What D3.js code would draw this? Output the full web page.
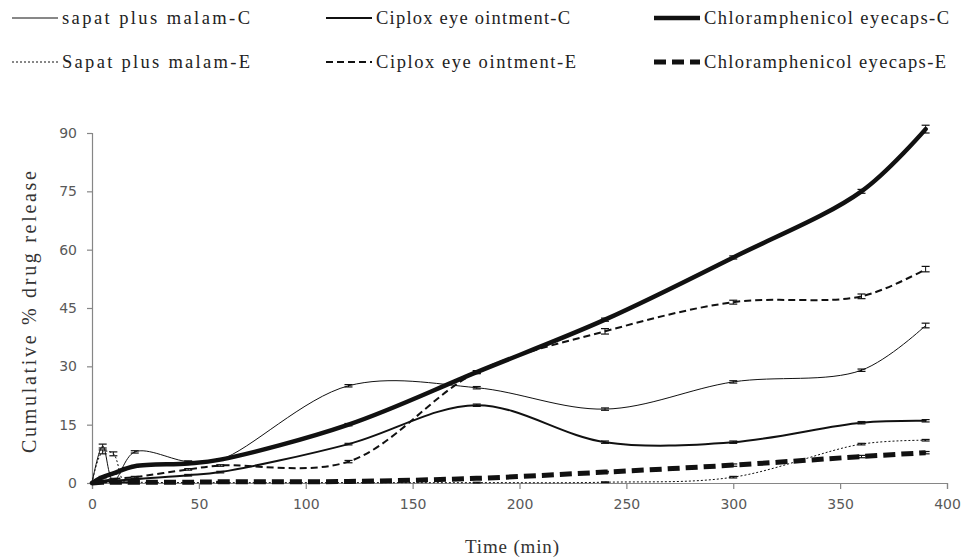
<!DOCTYPE html>
<html><head><meta charset="utf-8">
<script src="https://cdn.jsdelivr.net/npm/d3@7/dist/d3.min.js"></script>
<style>body{margin:0;background:#fff}svg{display:block}</style>
</head><body>
<svg id="chart" width="965" height="558"></svg>
<script>
const times = [0, 5, 10, 15, 20, 45, 60, 120, 180, 240, 300, 360, 390];
const sapatC  = [0, 9.5, 0.5, null, 8, 5.5, 6, 25, 24.5, 19, 26, 29, 40.5];
const sapatE  = [0, 8, 7.5, 0.3, 0.2, 0.1, 0.1, 0.1, 0.1, 0.2, 1.5, 10, 11];
const ciploxC = [0, 0.3, 0.5, null, 1, 2, 2.8, 10, 20, 10.5, 10.5, 15.5, 16];
const ciploxE = [0, 0.5, 1, null, 1.5, 3.5, 4.5, 5.5, 28.5, 39, 46.5, 48, 55];
const chlorC  = [0, 1.5, 2.5, null, 4.3, 5, 6, 15, 28.5, 42, 58, 75, 91];
const chlorE  = [0, 0.2, 0.2, null, 0.2, 0.2, 0.3, 0.4, 1.2, 2.8, 4.6, 6.8, 7.8];
const sdSapatC  = [0, 0.5, 0.4, null, 0.3, 0.2, 0.2, 0.3, 0.3, 0.3, 0.3, 0.3, 0.6];
const sdSapatE  = [0, 0.5, 0.5, 0.2, 0.1, 0.1, 0.1, 0.1, 0.1, 0.1, 0.2, 0.2, 0.2];
const sdCiploxC = [0, 0.2, 0.2, null, 0.2, 0.2, 0.2, 0.2, 0.3, 0.3, 0.3, 0.3, 0.3];
const sdCiploxE = [0, 0.2, 0.2, null, 0.2, 0.2, 0.2, 0.3, 0.4, 0.7, 0.5, 0.6, 0.7];
const sdChlorC  = [0, 0.2, 0.2, null, 0.2, 0.2, 0.2, 0.3, 0.3, 0.4, 0.4, 0.5, 1.0];
const sdChlorE  = [0, 0.1, 0.1, null, 0.1, 0.1, 0.1, 0.1, 0.2, 0.2, 0.3, 0.3, 0.3];
const seriesNames = ["sapat plus malam-C", "Ciplox eye ointment-C", "Chloramphenicol eyecaps-C",
                     "Sapat plus malam-E", "Ciplox eye ointment-E", "Chloramphenicol eyecaps-E"];
const xTicks = [0, 50, 100, 150, 200, 250, 300, 350, 400];
const yTicks = [0, 15, 30, 45, 60, 75, 90];

const series = [
  {name: seriesNames[0], vals: sapatC, sd: sdSapatC, w: 1, dash: null},
  {name: seriesNames[1], vals: ciploxC, sd: sdCiploxC, w: 2, dash: null},
  {name: seriesNames[2], vals: chlorC, sd: sdChlorC, w: 4.5, dash: null},
  {name: seriesNames[3], vals: sapatE, sd: sdSapatE, w: 1, dash: "2,2"},
  {name: seriesNames[4], vals: ciploxE, sd: sdCiploxE, w: 2, dash: "7,4"},
  {name: seriesNames[5], vals: chlorE, sd: sdChlorE, w: 5, dash: "12,6"}
];

const svg = d3.select("#chart");
const x = d3.scaleLinear().domain([0, 400]).range([92, 947]);
const y = d3.scaleLinear().domain([0, 90]).range([483, 133]);
const axisColor = "#868686";
const tickText = "#595959";
const serif = "'Liberation Serif', 'Times New Roman', serif";

// axes
const gx = svg.append("g").attr("transform", "translate(0,483)")
  .call(d3.axisBottom(x).tickValues(xTicks).tickSize(6).tickPadding(10).tickFormat(d3.format("d")));
const gy = svg.append("g").attr("transform", "translate(92,0)")
  .call(d3.axisLeft(y).tickValues(yTicks).tickSize(5).tickPadding(10).tickFormat(d3.format("d")));
[gx, gy].forEach(g => {
  g.select(".domain").attr("stroke", axisColor).attr("stroke-width", 1.2);
  g.selectAll(".tick line").attr("stroke", axisColor).attr("stroke-width", 1.2);
  g.selectAll(".tick text").attr("fill", tickText).style("font-family", "'DejaVu Sans', Verdana, sans-serif").style("font-size", "14px");
});

// lines
const line = d3.line().x(d => x(d.t)).y(d => y(d.v)).curve(d3.curveCatmullRom.alpha(0.5));
series.forEach(s => {
  const pts = times.map((t, i) => ({t, v: s.vals[i], sd: s.sd[i]})).filter(d => d.v != null);
  svg.append("path").datum(pts)
    .attr("d", line).attr("fill", "none").attr("stroke", "#111")
    .attr("stroke-width", s.w).attr("stroke-dasharray", s.dash)
    .attr("stroke-linejoin", "round").attr("stroke-linecap", s.dash ? "butt" : "round");
  const eb = svg.append("g");
  pts.filter(d => d.sd > 0).forEach(d => {
    const cx = x(d.t), y1 = y(d.v + d.sd), y2 = y(d.v - d.sd);
    eb.append("line").attr("x1", cx).attr("x2", cx).attr("y1", y1).attr("y2", y2).attr("stroke", "#111").attr("stroke-width", 1);
    eb.append("line").attr("x1", cx - 4).attr("x2", cx + 4).attr("y1", y1).attr("y2", y1).attr("stroke", "#111").attr("stroke-width", 1.2);
    eb.append("line").attr("x1", cx - 4).attr("x2", cx + 4).attr("y1", y2).attr("y2", y2).attr("stroke", "#111").attr("stroke-width", 1.2);
  });
});

// axis titles
svg.append("text").attr("x", 512).attr("y", 553).attr("text-anchor", "middle")
  .style("font-family", serif).style("font-size", "19px")
  .attr("fill", "#333").attr("textLength", 94).attr("lengthAdjust", "spacing").text("Time  (min)");
svg.append("text").attr("transform", "translate(36,312) rotate(-90)").attr("text-anchor", "middle")
  .style("font-family", serif).style("font-size", "20px")
  .attr("fill", "#333").attr("textLength", 282).attr("lengthAdjust", "spacing").text("Cumulative  % drug release");

// legend
const legX = [12, 326, 654];
const legRowY = [18, 62];
const legTextW = [188, 194, 245, 188, 200, 242];
series.forEach((s, i) => {
  const col = i % 3, row = Math.floor(i / 3);
  const lx = legX[col], ly = legRowY[row];
  svg.append("line").attr("x1", lx).attr("x2", lx + 46).attr("y1", ly).attr("y2", ly)
    .attr("stroke", "#111").attr("stroke-width", s.w).attr("stroke-dasharray", s.dash);
  svg.append("text").attr("x", lx + 50).attr("y", ly + 6)
    .style("font-family", serif).style("font-size", "18.5px")
    .attr("fill", "#222").attr("textLength", legTextW[i]).attr("lengthAdjust", "spacing")
    .text(s.name);
});
</script>
</body></html>
